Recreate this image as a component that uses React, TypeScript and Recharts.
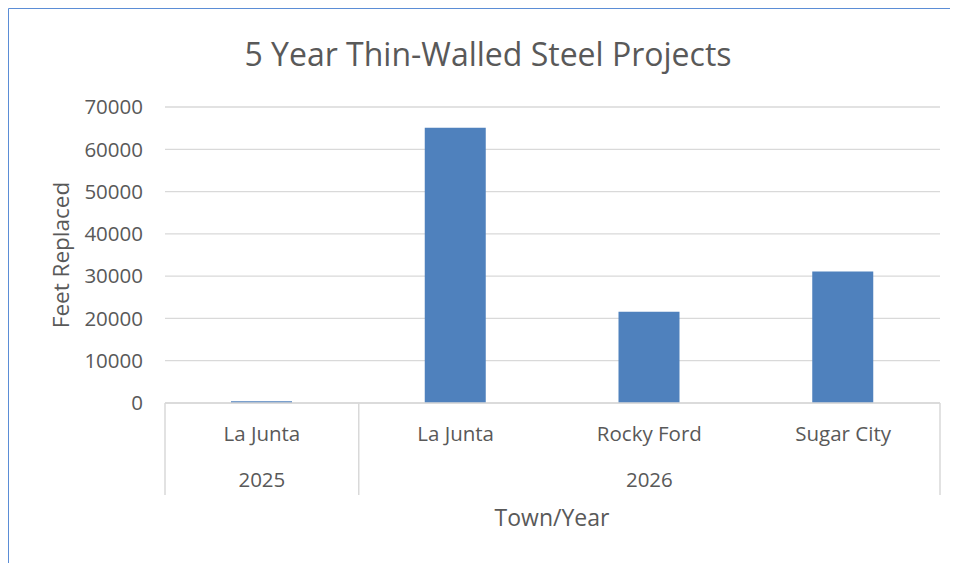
import { BarChart, Bar, XAxis, YAxis, CartesianGrid } from "recharts";

const towns = ["La Junta", "La Junta", "Rocky Ford", "Sugar City"];
const years = ["2025", "2026", "2026", "2026"];
const feetReplaced = [400, 65100, 21600, 31100];
const yTicks = [0, 10000, 20000, 30000, 40000, 50000, 60000, 70000];

const data = towns.map((town, i) => ({
  key: `${years[i]}-${town}`,
  town,
  year: years[i],
  feet: feetReplaced[i],
}));

const FONT = "'Open Sans', sans-serif";
const TEXT = "#595959";
const GRID = "#d9d9d9";

const W = 950;
const H = 555;
const M = { top: 99, right: 18, left: 37, bottom: 60 };
const Y_AXIS_W = 120;
const PLOT_W = W - M.left - M.right - Y_AXIS_W;
const BAND = PLOT_W / data.length;
const TICK_FS = 20.5;

const TwoLevelTick = (props: any) => {
  const { x, y, index } = props;
  const row = data[index];
  if (!row) return null;
  const first = index === 0 || data[index - 1].year !== row.year;
  const last = index === data.length - 1;
  let groupSize = 0;
  if (first) {
    for (let j = index; j < data.length && data[j].year === row.year; j++) groupSize++;
  }
  return (
    <g>
      <text x={x} y={y + 38} textAnchor="middle" fill={TEXT} fontSize={TICK_FS} fontFamily={FONT}>
        {row.town}
      </text>
      {first && (
        <>
          <text
            x={x + ((groupSize - 1) * BAND) / 2}
            y={y + 84}
            textAnchor="middle"
            fill={TEXT}
            fontSize={TICK_FS}
            fontFamily={FONT}
          >
            {row.year}
          </text>
          <line x1={x - BAND / 2} x2={x - BAND / 2} y1={y} y2={y + 92} stroke={GRID} strokeWidth={1.5} />
        </>
      )}
      {last && <line x1={x + BAND / 2} x2={x + BAND / 2} y1={y} y2={y + 92} stroke={GRID} strokeWidth={1.5} />}
    </g>
  );
};

export default function App() {
  return (
    <div style={{ position: "relative", width: W, height: H, fontFamily: FONT, overflow: "hidden" }}>
      <svg
        width={W}
        height={H}
        style={{ position: "absolute", left: 0, top: 0 }}
      >
        <line x1={0.5} y1={0.5} x2={W} y2={0.5} stroke="#5b8dd6" strokeWidth={1} />
        <line x1={0.5} y1={0.5} x2={0.5} y2={H} stroke="#5b8dd6" strokeWidth={1} />
      </svg>
      <div
        style={{
          position: "absolute",
          left: 480,
          top: 45,
          transform: "translate(-50%, -50%)",
          fontSize: 32,
          color: TEXT,
          whiteSpace: "nowrap",
        }}
      >
        5 Year Thin-Walled Steel Projects
      </div>
      <div
        style={{
          position: "absolute",
          left: 52,
          top: 247,
          transform: "translate(-50%, -50%) rotate(-90deg)",
          fontSize: 22.5,
          color: TEXT,
          whiteSpace: "nowrap",
        }}
      >
        Feet Replaced
      </div>
      <div
        style={{
          position: "absolute",
          left: 544,
          top: 509,
          transform: "translate(-50%, -50%)",
          fontSize: 23,
          color: TEXT,
          whiteSpace: "nowrap",
        }}
      >
        Town/Year
      </div>
      <div style={{ position: "absolute", left: 0, top: 0 }}>
        <BarChart width={W} height={H} data={data} margin={M} barSize={61}>
          <CartesianGrid vertical={false} stroke={GRID} strokeWidth={1.3} />
          <XAxis
            dataKey="key"
            interval={0}
            height={100}
            axisLine={{ stroke: GRID, strokeWidth: 1.5 }}
            tickLine={false}
            tickSize={0}
            tickMargin={0}
            tick={<TwoLevelTick />}
          />
          <YAxis
            width={Y_AXIS_W}
            domain={[0, 70000]}
            ticks={yTicks}
            interval={0}
            axisLine={false}
            tickLine={false}
            tickSize={0}
            tickMargin={22}
            tick={{ fill: TEXT, fontSize: TICK_FS, fontFamily: FONT }}
          />
          <Bar dataKey="feet" fill="#4f81bd" isAnimationActive={false} />
        </BarChart>
      </div>
    </div>
  );
}
